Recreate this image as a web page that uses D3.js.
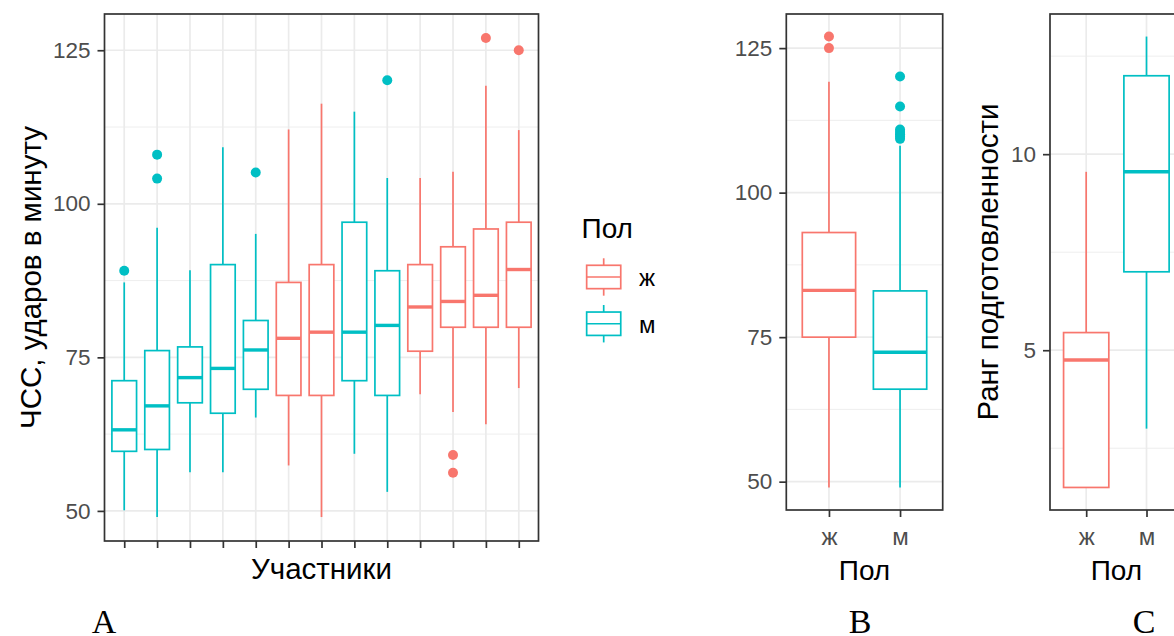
<!DOCTYPE html>
<html><head><meta charset="utf-8">
<script src="https://cdn.jsdelivr.net/npm/d3@7"></script>
<style>
html,body{margin:0;padding:0;background:#fff;}
svg{display:block;font-family:"Liberation Sans",Arial,sans-serif;}
</style></head>
<body>
<svg id="chart" width="1174" height="636"></svg>
<script>
// ---------- DATA ----------
// Panel A: participants
const participants = ["1","2","3","4","5","6","7","8","9","10","11","12","13"];
const partSex  = ["м","м","м","м","м","ж","ж","м","м","ж","ж","ж","ж"];
const partMin  = [50.1, 49.0, 56.3, 56.3, 65.2, 57.4, 49.0, 59.3, 53.1, 69.0, 66.1, 64.1, 70.0];
const partQ1   = [59.7, 60.0, 67.6, 65.9, 69.8, 68.8, 68.8, 71.2, 68.8, 76.0, 79.9, 79.9, 79.9];
const partMed  = [63.2, 67.1, 71.7, 73.2, 76.2, 78.1, 79.1, 79.1, 80.2, 83.2, 84.1, 85.1, 89.3];
const partQ3   = [71.2, 76.1, 76.7, 90.1, 81.0, 87.2, 90.1, 97.0, 89.1, 90.1, 93.0, 95.9, 97.0];
const partMax  = [87.2, 96.1, 89.2, 109.2, 95.1, 112.1, 116.3, 115.0, 104.2, 104.2, 105.2, 119.2, 112.0];
const partOut  = [[89.1],[108.0,104.1],[],[],[105.1],[],[],[],[120.1],[],[59.1,56.2],[127.0],[125.0]];

// Panel B: heart rate by sex
const sexes   = ["ж","м"];
const sexMin  = [49.0, 49.0];
const sexQ1   = [75.0, 66.0];
const sexMed  = [83.1, 72.4];
const sexQ3   = [93.1, 83.0];
const sexMax  = [119.2, 108.1];
const sexOut  = [[127.0,125.0],[120.1,114.9,110.9,110.5,110.1,109.7,109.3]];

// Panel C: fitness rank by sex
const rankMin = [1.5, 3.0];
const rankQ1  = [1.5, 7.0];
const rankMed = [4.75, 9.55];
const rankQ3  = [5.45, 12.0];
const rankMax = [9.55, 13.0];
const rankOut = [[],[]];

// Tick labels
const hrTicks = [50, 75, 100, 125];
const hrMinor = [62.5, 87.5, 112.5];
const rankTicks = [5, 10];
const rankMinor = [2.5, 7.5, 12.5];

const sexColors = {"ж":"#F8766D","м":"#00BFC4"};

// ---------- HELPERS ----------
const svg = d3.select("#chart");
svg.append("rect").attr("width",1174).attr("height",636).attr("fill","#fff");

const GRID = "#EBEBEB", BORDER = "#333333", TXT = "#4D4D4D";
const LW = 1.7;
const SANS = "'Liberation Sans',Arial,sans-serif";

function expandDomain(lo, hi){ const r = hi - lo; return [lo - 0.05*r, hi + 0.05*r]; }

function makePanel(cfg){
  const {x0,x1,y0,y1,cats,yDomain,major,minor} = cfg;
  const x = d3.scalePoint().domain(cats).range([x0,x1]).padding(0.6);
  const y = d3.scaleLinear().domain(yDomain).range([y1,y0]);
  const g = svg.append("g");
  g.selectAll(".ymin").data(minor).join("line")
    .attr("x1",x0).attr("x2",x1).attr("y1",d=>y(d)).attr("y2",d=>y(d))
    .attr("stroke",GRID).attr("stroke-width",0.85);
  g.selectAll(".ymaj").data(major).join("line")
    .attr("x1",x0).attr("x2",x1).attr("y1",d=>y(d)).attr("y2",d=>y(d))
    .attr("stroke",GRID).attr("stroke-width",LW);
  g.selectAll(".xmaj").data(cats).join("line")
    .attr("x1",d=>x(d)).attr("x2",d=>x(d)).attr("y1",y0).attr("y2",y1)
    .attr("stroke",GRID).attr("stroke-width",LW);
  return {x,y,g};
}

function drawBoxes(p, rows, bw){
  const {x,y,g} = p;
  rows.forEach(r=>{
    const cx = x(r.cat), c = r.color;
    r.out.forEach(v=>{
      g.append("circle").attr("cx",cx).attr("cy",y(v)).attr("r",5).attr("fill",c);
    });
    g.append("line").attr("x1",cx).attr("x2",cx).attr("y1",y(r.q3)).attr("y2",y(r.max))
      .attr("stroke",c).attr("stroke-width",LW);
    g.append("line").attr("x1",cx).attr("x2",cx).attr("y1",y(r.q1)).attr("y2",y(r.min))
      .attr("stroke",c).attr("stroke-width",LW);
    g.append("rect").attr("x",cx-bw/2).attr("width",bw)
      .attr("y",y(r.q3)).attr("height",Math.max(0,y(r.q1)-y(r.q3)))
      .attr("fill","#fff").attr("stroke",c).attr("stroke-width",LW);
    g.append("line").attr("x1",cx-bw/2).attr("x2",cx+bw/2).attr("y1",y(r.med)).attr("y2",y(r.med))
      .attr("stroke",c).attr("stroke-width",LW*2);
  });
}

function border(cfg){
  svg.append("rect").attr("x",cfg.x0).attr("y",cfg.y0)
    .attr("width",cfg.x1-cfg.x0).attr("height",cfg.y1-cfg.y0)
    .attr("fill","none").attr("stroke",BORDER).attr("stroke-width",LW);
}

function yAxis(p, cfg, ticks){
  const ax = svg.append("g").attr("transform",`translate(${cfg.x0},0)`)
    .call(d3.axisLeft(p.y).tickValues(ticks).tickSize(7).tickPadding(7));
  ax.select(".domain").remove();
  ax.selectAll("line").attr("stroke",BORDER).attr("stroke-width",LW);
  ax.selectAll("text").attr("fill",TXT).style("font-size","22.5px").style("font-family",SANS);
}

function xAxis(p, cfg, showLabels){
  const ax = svg.append("g").attr("transform",`translate(0,${cfg.y1})`)
    .call(d3.axisBottom(p.x).tickSize(7).tickPadding(5).tickFormat(showLabels? (d=>d) : (()=>"")));
  ax.select(".domain").remove();
  ax.selectAll("line").attr("stroke",BORDER).attr("stroke-width",LW);
  ax.selectAll("text").attr("fill",TXT).attr("dy",null).attr("y",35)
    .style("font-size","24px").style("font-family",SANS);
}

function title(txt, x, y, rot, opts={}){
  const t = svg.append("text").text(txt)
    .attr("text-anchor","middle")
    .attr("fill","#000")
    .style("font-size",(opts.size||28)+"px")
    .style("font-family",opts.family||SANS);
  if(rot) t.attr("transform",`translate(${x},${y}) rotate(-90)`);
  else t.attr("x",x).attr("y",y);
  return t;
}

// ---------- PANEL A ----------
const allHR = partMin.concat(partMax, partOut.flat(), sexMin, sexMax, sexOut.flat());
const hrDomain = expandDomain(d3.min(allHR), d3.max(allHR));
const cfgA = {x0:104.5,x1:538.5,y0:14,y1:541,cats:participants,yDomain:hrDomain,major:hrTicks,minor:hrMinor};
const pA = makePanel(cfgA);
const rowsA = participants.map((c,i)=>({cat:c,color:sexColors[partSex[i]],min:partMin[i],q1:partQ1[i],med:partMed[i],q3:partQ3[i],max:partMax[i],out:partOut[i]}));
drawBoxes(pA, rowsA, pA.x.step()*0.75);
border(cfgA);
yAxis(pA, cfgA, hrTicks);
xAxis(pA, cfgA, false);
title("ЧСС, ударов в минуту", 40.5, (cfgA.y0+cfgA.y1)/2, true, {size:29.5});
title("Участники", (cfgA.x0+cfgA.x1)/2, 579, false, {size:29.5});

// ---------- LEGEND ----------
svg.append("text").text("Пол").attr("x",581.5).attr("y",238).attr("fill","#000")
  .style("font-size","28px");
const keyX = 582.4, keyW = 42.6, keyH = 46.75, keyY0 = 253.6;
const lg = svg.append("g");
sexes.forEach((s,i)=>{
  const ky = keyY0 + i*keyH, c = sexColors[s], cx = keyX + keyW/2;
  lg.append("line").attr("x1",cx).attr("x2",cx).attr("y1",ky+0.1*keyH).attr("y2",ky+0.25*keyH).attr("stroke",c).attr("stroke-width",LW);
  lg.append("line").attr("x1",cx).attr("x2",cx).attr("y1",ky+0.75*keyH).attr("y2",ky+0.9*keyH).attr("stroke",c).attr("stroke-width",LW);
  lg.append("rect").attr("x",keyX+0.1*keyW).attr("width",0.8*keyW).attr("y",ky+0.25*keyH).attr("height",0.5*keyH)
    .attr("fill","#fff").attr("stroke",c).attr("stroke-width",LW);
  lg.append("line").attr("x1",keyX+0.1*keyW).attr("x2",keyX+0.9*keyW).attr("y1",ky+0.5*keyH).attr("y2",ky+0.5*keyH).attr("stroke",c).attr("stroke-width",LW);
  lg.append("text").text(s).attr("x",639).attr("y",ky+0.5*keyH+9.5).attr("fill","#000").style("font-size","24px");
});

// ---------- PANEL B ----------
const cfgB = {x0:786.3,x1:942.7,y0:14,y1:510,cats:sexes,yDomain:hrDomain,major:hrTicks,minor:hrMinor};
const pB = makePanel(cfgB);
const rowsB = sexes.map((s,i)=>({cat:s,color:sexColors[s],min:sexMin[i],q1:sexQ1[i],med:sexMed[i],q3:sexQ3[i],max:sexMax[i],out:sexOut[i]}));
drawBoxes(pB, rowsB, pB.x.step()*0.75);
border(cfgB);
yAxis(pB, cfgB, hrTicks);
xAxis(pB, cfgB, true);
title("Пол", (cfgB.x0+cfgB.x1)/2, 580, false);

// ---------- PANEL C ----------
const allRank = rankMin.concat(rankMax, rankOut.flat());
const rankDomain = expandDomain(d3.min(allRank), d3.max(allRank));
const cfgC = {x0:1050,x1:1182.7,y0:14,y1:510,cats:sexes,yDomain:rankDomain,major:rankTicks,minor:rankMinor};
const pC = makePanel(cfgC);
const rowsC = sexes.map((s,i)=>({cat:s,color:sexColors[s],min:rankMin[i],q1:rankQ1[i],med:rankMed[i],q3:rankQ3[i],max:rankMax[i],out:rankOut[i]}));
drawBoxes(pC, rowsC, pC.x.step()*0.75);
border(cfgC);
yAxis(pC, cfgC, rankTicks);
xAxis(pC, cfgC, true);
title("Ранг подготовленности", 997.5, (cfgC.y0+cfgC.y1)/2, true, {size:29.5});
title("Пол", (cfgC.x0+cfgC.x1)/2, 580, false);

// ---------- PANEL LETTERS ----------
const serif = "'Liberation Serif','Times New Roman',serif";
title("A", 104, 633, false, {size:34, family:serif});
title("B", 860, 633, false, {size:34, family:serif});
title("C", 1144, 633, false, {size:34, family:serif});
</script>
</body></html>
